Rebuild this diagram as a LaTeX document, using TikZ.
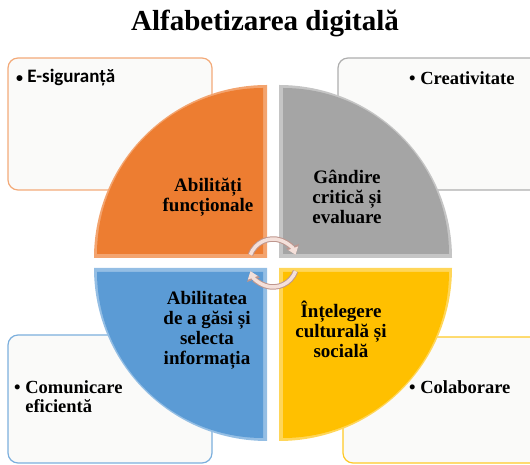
\documentclass[tikz,border=0pt]{standalone}
\usepackage{fontspec}
\setmainfont{Liberation Serif}
\newfontfamily\calibri{Carlito}
\usepackage{tikz}
\usetikzlibrary{arrows.meta}
\definecolor{orng}{RGB}{237, 125, 49}
\definecolor{gry}{RGB}{165, 165, 165}
\definecolor{blu}{RGB}{91, 155, 213}
\definecolor{yel}{RGB}{255, 192, 0}
\definecolor{paper}{RGB}{250, 250, 249}
\definecolor{cyc}{RGB}{244, 224, 218}
\definecolor{cycdark}{RGB}{190, 150, 142}

\tikzset{
  card/.style={rounded corners=10pt, fill=paper, line width=1.2pt},
  qlabel/.style={font=\bfseries\fontsize{19}{20}\selectfont, align=center},
  item/.style={font=\bfseries\fontsize{18.5}{19}\selectfont, anchor=west, inner sep=0pt},
  cycleout/.style={line width=5.5pt, draw=cycdark, -{Triangle[length=9pt, width=13pt]}},
  cyclein/.style={line width=3.5pt, draw=cyc, -{Triangle[length=7pt, width=10pt]}}
}

\begin{document}
\begin{tikzpicture}[x=1pt, y=1pt]

  \useasboundingbox (0, 0) rectangle (530, 465);
  \clip (0, 0) rectangle (530, 465);

  \node[font=\bfseries\fontsize{29}{32}\selectfont] (title) at (265, 442) {Alfabetizarea digitală};

  % cards behind the circle
  \draw[card, draw=orng!65!white] (8, 275) rectangle (212, 407);
  \draw[card, draw=gry!90!white] (338, 275) rectangle (545, 407);
  \draw[card, draw=blu!80!white] (8, 2) rectangle (212, 130);
  \draw[card, draw=yel!85!white] (343, 2) rectangle (545, 128);

  \node[item, font=\calibri\bfseries\fontsize{19}{20}\selectfont] (esig) at (16, 387) {{\fontsize{14}{14}\selectfont\textbullet}\ E-siguranță};
  \node[item] (creat) at (409, 387) {\textbullet\ Creativitate};
  \node[item] (comun) at (14, 66) {\begin{tabular}{@{}l@{\ }l@{}}\textbullet & Comunicare\\ & eficientă\end{tabular}};
  \node[item] (colab) at (409, 78) {\textbullet\ Colaborare};

  % the four quarters, a lighter rim and the colour inside
  \fill[orng!70!white] (267, 207) -- ++(-173, 0) arc[start angle=180, end angle=90, radius=173] -- cycle;
  \fill[orng] (263, 211) -- ++(-166, 0) arc[start angle=180, end angle=90, radius=166] -- cycle;

  \fill[gry!65!white] (279, 207) -- ++(0, 173) arc[start angle=90, end angle=0, radius=173] -- cycle;
  \fill[gry] (283, 211) -- ++(0, 166) arc[start angle=90, end angle=0, radius=166] -- cycle;

  \fill[yel!65!white] (279, 197) -- ++(173, 0) arc[start angle=0, end angle=-90, radius=173] -- cycle;
  \fill[yel] (283, 193) -- ++(166, 0) arc[start angle=0, end angle=-90, radius=166] -- cycle;

  \fill[blu!65!white] (267, 197) -- ++(0, -173) arc[start angle=270, end angle=180, radius=173] -- cycle;
  \fill[blu] (263, 193) -- ++(0, -166) arc[start angle=270, end angle=180, radius=166] -- cycle;

  \node[qlabel] (func) at (208, 268) {Abilități\\funcționale};
  \node[qlabel] (crit) at (347, 268) {Gândire\\critică și\\evaluare};
  \node[qlabel] (info) at (207, 135) {Abilitatea\\de a găsi și\\selecta\\informația};
  \node[qlabel] (cult) at (341, 136) {Înțelegere\\culturală și\\socială};

  % cycle in the middle
  \coordinate (hub) at (273, 202);
  \draw[cycleout] ([shift={(160:24)}]hub) arc[start angle=160, end angle=20, radius=24];
  \draw[cyclein] ([shift={(160:24)}]hub) arc[start angle=160, end angle=20, radius=24];
  \draw[cycleout] ([shift={(-20:24)}]hub) arc[start angle=-20, end angle=-160, radius=24];
  \draw[cyclein] ([shift={(-20:24)}]hub) arc[start angle=-20, end angle=-160, radius=24];

\end{tikzpicture}
\end{document}
